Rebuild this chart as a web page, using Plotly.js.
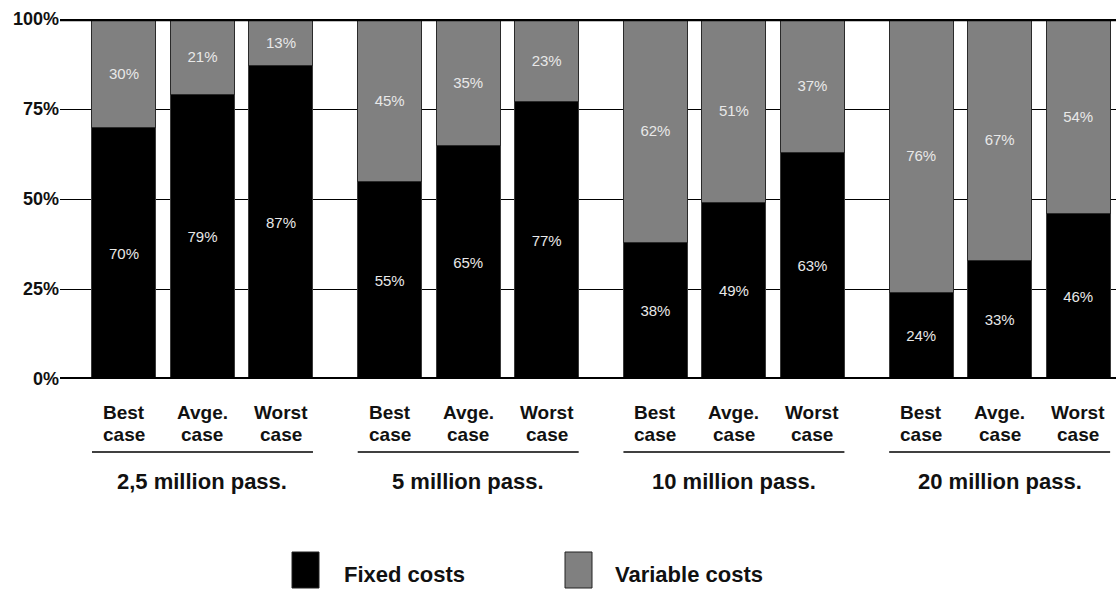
<!DOCTYPE html>
<html>
<head>
<meta charset="utf-8">
<script src="https://cdn.plot.ly/plotly-3.0.1.min.js"></script>
<style>
  html, body { margin: 0; padding: 0; background: #fff; }
  #chart { width: 1116px; height: 589px; }
</style>
</head>
<body>
<div id="chart"></div>
<script>
// Share of fixed vs. variable costs per airport size and scenario
const groups = ['2,5 million pass.', '5 million pass.', '10 million pass.', '20 million pass.'];
const cases = ['Best case', 'Avge. case', 'Worst case'];
const fixedCosts = [70, 79, 87, 55, 65, 77, 38, 49, 63, 24, 33, 46];
const variableCosts = [30, 21, 13, 45, 35, 23, 62, 51, 37, 76, 67, 54];
const seriesNames = ['Fixed costs', 'Variable costs'];
const yTicks = [0, 25, 50, 75, 100];
const yTickText = ['0%', '25%', '50%', '75%', '100%'];

const FONT = '"Liberation Sans", Arial, sans-serif';
const BLACK = '#000000';
const GREY = '#808080';

// Plot box in pixels (used to place the labels drawn outside it)
const W = 1116, H = 589;
const M = { l: 60, r: 0, t: 19, b: 210 };
const plotW = W - M.l - M.r;
const plotH = H - M.t - M.b;

// Bar layout: one unit per bar slot, wider step between groups
const groupStep = 3.385;
const barWidth = 0.815;
const xRange = [-0.815, -0.815 + plotW / 78.5];

const xs = [];
const caseLabels = [];
groups.forEach((g, gi) => {
  cases.forEach((c, ci) => {
    xs.push(gi * groupStep + ci);
    caseLabels.push(c);
  });
});

const pxToPaperX = px => (px - M.l) / plotW;
const pxToPaperY = py => (H - M.b - py) / plotH;
const pct = v => v + '%';

const common = {
  type: 'bar',
  x: xs,
  width: xs.map(() => barWidth),
  texttemplate: '%{text}',
  textposition: 'inside',
  insidetextanchor: 'middle',
  textangle: 0,
  constraintext: 'none',
  textfont: { family: FONT, size: 15, color: '#e8e8e8' },
  hoverinfo: 'skip'
};

const traces = [
  Object.assign({}, common, {
    name: seriesNames[0],
    y: fixedCosts,
    text: fixedCosts.map(pct),
    marker: { color: BLACK, line: { color: '#3a3a3a', width: 1 } }
  }),
  Object.assign({}, common, {
    name: seriesNames[1],
    y: variableCosts,
    text: variableCosts.map(pct),
    marker: { color: GREY, line: { color: '#2a2a2a', width: 1 } }
  })
];

const annotations = [];
const shapes = [];

// Two-line scenario labels under each bar
xs.forEach((x, i) => {
  const parts = caseLabels[i].split(' ');
  parts.forEach((p, li) => {
    annotations.push({
      x: x, xref: 'x', y: 0, yref: 'paper',
      yanchor: 'middle', xanchor: 'center',
      yshift: li === 0 ? -33.5 : -55.5,
      text: p, showarrow: false,
      font: { family: FONT, size: 19, color: '#111', weight: 'bold' }
    });
  });
});

// Group rule and group title
groups.forEach((g, gi) => {
  const first = gi * groupStep;
  const last = first + cases.length - 1;
  shapes.push({
    type: 'line', xref: 'x', yref: 'paper',
    x0: first - barWidth / 2, x1: last + barWidth / 2,
    y0: pxToPaperY(452), y1: pxToPaperY(452),
    line: { color: '#000', width: 1.5 }
  });
  annotations.push({
    x: (first + last) / 2, xref: 'x', y: 0, yref: 'paper',
    yanchor: 'middle', xanchor: 'center', yshift: -102,
    text: g, showarrow: false,
    font: { family: FONT, size: 22, color: '#111', weight: 'bold' }
  });
});

// Heavy rules at 0% and 100%
[0, 100].forEach(v => {
  shapes.push({
    type: 'line', xref: 'paper', yref: 'y', layer: 'above',
    x0: 0, x1: 1, y0: v, y1: v,
    line: { color: '#000', width: v === 100 ? 4.5 : 4 }
  });
});

// Legend: tall swatches with bold captions
const legendItems = [
  { name: seriesNames[0], color: BLACK, sx: 292, tx: 342 },
  { name: seriesNames[1], color: GREY, sx: 565, tx: 613 }
];
legendItems.forEach(it => {
  shapes.push({
    type: 'rect', xref: 'paper', yref: 'paper',
    x0: pxToPaperX(it.sx), x1: pxToPaperX(it.sx + 27),
    y0: pxToPaperY(552), y1: pxToPaperY(588),
    fillcolor: it.color, line: { color: '#222', width: 1 }
  });
  annotations.push({
    x: pxToPaperX(it.tx), xref: 'paper', y: pxToPaperY(574), yref: 'paper',
    xanchor: 'left', yanchor: 'middle',
    text: it.name, showarrow: false,
    font: { family: FONT, size: 22, color: '#111', weight: 'bold' }
  });
});

const layout = {
  width: W, height: H,
  margin: M,
  paper_bgcolor: '#fff', plot_bgcolor: '#fff',
  barmode: 'stack',
  showlegend: false,
  hovermode: false,
  xaxis: {
    range: xRange, showticklabels: false, showgrid: false,
    zeroline: false, showline: false, ticks: '', fixedrange: true
  },
  yaxis: {
    range: [0, 100], tickmode: 'array', tickvals: yTicks, ticktext: yTickText,
    showgrid: true, gridcolor: '#000', gridwidth: 1,
    zeroline: false, showline: false, ticks: '',
    ticklabelstandoff: 0,
    tickfont: { family: FONT, size: 18, color: '#111', weight: 'bold' },
    fixedrange: true
  },
  font: { family: FONT },
  annotations: annotations,
  shapes: shapes
};

Plotly.newPlot('chart', traces, layout, { staticPlot: true, displayModeBar: false });
</script>
</body>
</html>
